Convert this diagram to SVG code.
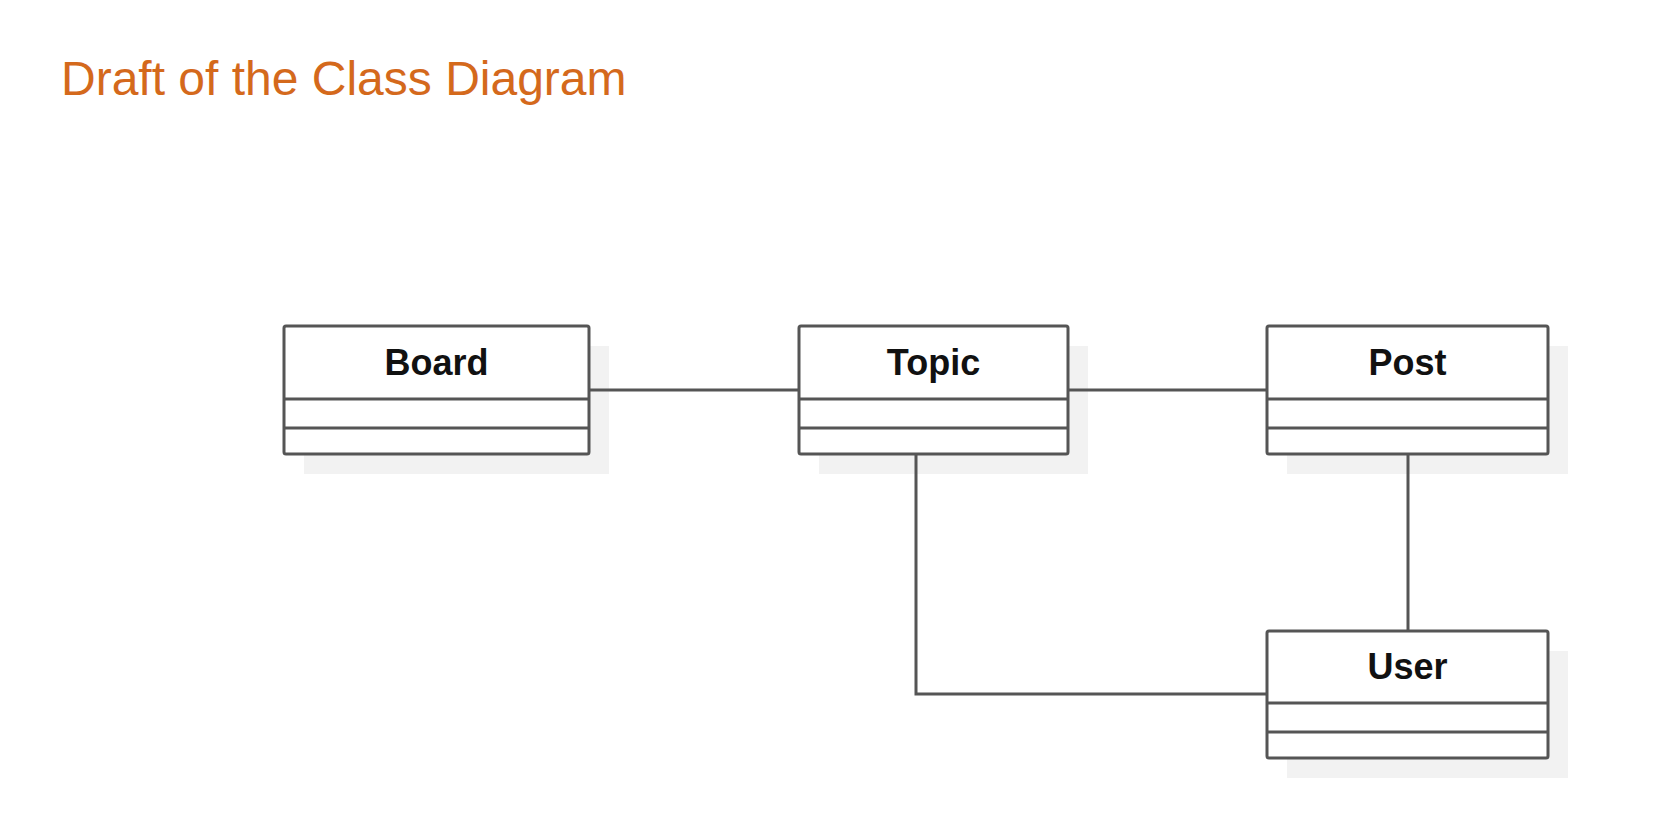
<svg xmlns="http://www.w3.org/2000/svg" width="1663" height="827" viewBox="0 0 1663 827">
<style>
.shadow{fill:#f2f2f2;stroke:none}
.box{fill:#ffffff;stroke:#555555;stroke-width:3}
.div{stroke:#555555;stroke-width:3}
.name{font-family:"Liberation Sans",Arial,sans-serif;font-weight:bold;font-size:36px;fill:#111111;text-anchor:middle}
.conn{fill:none;stroke:#555555;stroke-width:3}
.title{font-family:"Liberation Sans",Arial,sans-serif;font-size:48px;fill:#d4691c}
</style>
<rect width="1663" height="827" fill="#ffffff"/>
<text class="title" x="61" y="95">Draft of the Class Diagram</text>
<g id="Board">
<rect class="shadow" x="304" y="346" width="305" height="128"/>
<rect class="box" x="284" y="326" width="305" height="128" rx="2"/>
<line class="div" x1="284" y1="399" x2="589" y2="399"/>
<line class="div" x1="284" y1="428" x2="589" y2="428"/>
<text class="name" x="436.5" y="375">Board</text>
</g>
<g id="Topic">
<rect class="shadow" x="819" y="346" width="269" height="128"/>
<rect class="box" x="799" y="326" width="269" height="128" rx="2"/>
<line class="div" x1="799" y1="399" x2="1068" y2="399"/>
<line class="div" x1="799" y1="428" x2="1068" y2="428"/>
<text class="name" x="933.5" y="375">Topic</text>
</g>
<g id="Post">
<rect class="shadow" x="1287" y="346" width="281" height="128"/>
<rect class="box" x="1267" y="326" width="281" height="128" rx="2"/>
<line class="div" x1="1267" y1="399" x2="1548" y2="399"/>
<line class="div" x1="1267" y1="428" x2="1548" y2="428"/>
<text class="name" x="1407.5" y="375">Post</text>
</g>
<g id="User">
<rect class="shadow" x="1287" y="651" width="281" height="127"/>
<rect class="box" x="1267" y="631" width="281" height="127" rx="2"/>
<line class="div" x1="1267" y1="703" x2="1548" y2="703"/>
<line class="div" x1="1267" y1="732" x2="1548" y2="732"/>
<text class="name" x="1407.5" y="679">User</text>
</g>
<g id="connectors">
<line class="conn" x1="589" y1="390" x2="799" y2="390"/>
<line class="conn" x1="1068" y1="390" x2="1267" y2="390"/>
<polyline class="conn" points="916,454 916,694 1267,694"/>
<line class="conn" x1="1408" y1="454" x2="1408" y2="631"/>
</g>
</svg>
